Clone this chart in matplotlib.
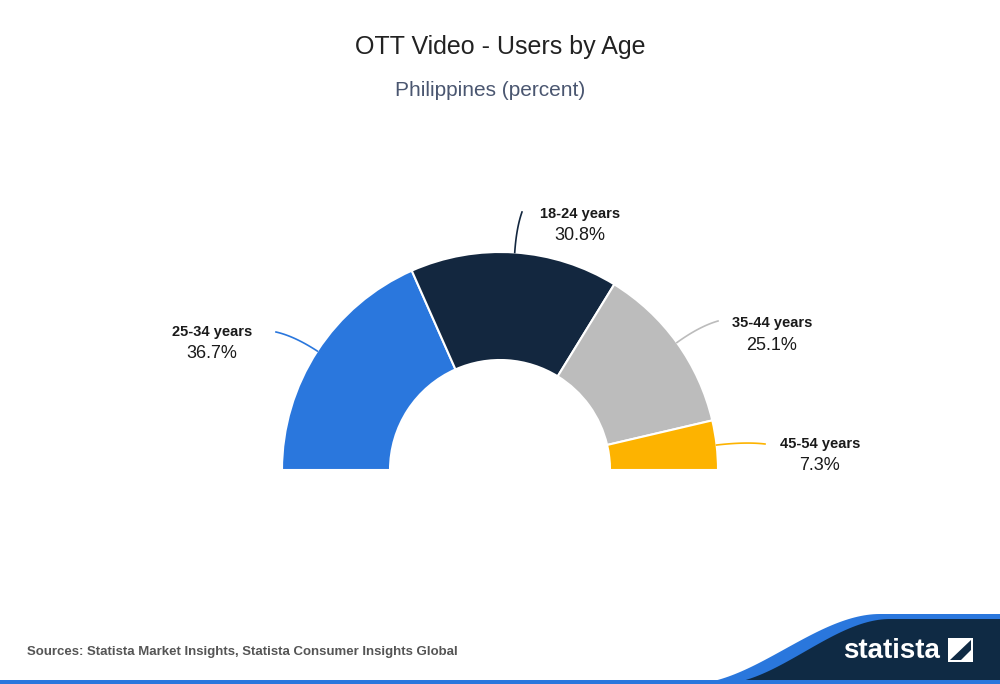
import numpy as np
import matplotlib.pyplot as plt
from matplotlib.patches import Polygon, Rectangle

plt.rcParams['font.family'] = ['Liberation Sans', 'DejaVu Sans']

# Daten
categorias = ['25-34 years', '18-24 years', '35-44 years', '45-54 years']
valores = [36.7, 30.8, 25.1, 7.3]
cores = ['#2a77dd', '#13273f', '#bcbcbc', '#fdb300']

# posicoes dos rotulos (pixels) e ponto final da linha guia
rotulos_pos = [(212, 332), (580, 214), (772, 323), (820, 444)]
linha_fim = [(276, 332), (522, 212), (718, 321), (765, 444)]

H = 684
fig = plt.figure(figsize=(10, 6.84), dpi=100)
ax = fig.add_axes([0, 0, 1, 1])

cx, cy, r, largura = 500, H - 470, 218, 108
total = sum(valores)
ax.pie(valores + [total], colors=cores + ['none'], startangle=180, counterclock=False,
       radius=r, center=(cx, cy),
       wedgeprops=dict(width=largura, edgecolor='white', linewidth=1.5))
# remover a borda da fatia invisivel
ax.patches[-1].set_edgecolor('none')

ax.set_xlim(0, 1000)
ax.set_ylim(0, H)
ax.set_aspect('auto')
ax.axis('off')

# rotulos com linhas guia (levemente curvas)
acum = 0
for cat, val, cor, (lx, ly), (ex, ey) in zip(categorias, valores, cores, rotulos_pos, linha_fim):
    meio = 180 - (acum + val / 2) / total * 180
    acum += val
    ang = np.deg2rad(meio)
    sx = cx + r * np.cos(ang)
    sy = cy + r * np.sin(ang)
    ey = H - ey
    # ponto de controle na direcao radial
    px = cx + (r + 0.6 * np.hypot(ex - sx, ey - sy)) * np.cos(ang)
    py = cy + (r + 0.6 * np.hypot(ex - sx, ey - sy)) * np.sin(ang)
    t = np.linspace(0, 1, 30)
    bx = (1 - t)**2 * sx + 2 * (1 - t) * t * px + t**2 * ex
    by = (1 - t)**2 * sy + 2 * (1 - t) * t * py + t**2 * ey
    ax.plot(bx, by, color=cor, lw=1.2)
    ax.text(lx, H - ly, cat, ha='center', va='center', fontsize=10.5, fontweight='bold', color='#1a1a1a')
    ax.text(lx, H - ly - 22, f'{val}%', ha='center', va='center', fontsize=13, color='#1a1a1a')

# titulos
ax.text(500, H - 47, 'OTT Video - Users by Age', ha='center', va='center', fontsize=18, color='#222222')
ax.text(490, H - 91, 'Philippines (percent)', ha='center', va='center', fontsize=15, color='#4a5670')

# rodape
ax.text(27, H - 652, 'Sources: Statista Market Insights, Statista Consumer Insights Global',
        ha='left', va='center', fontsize=9.5, fontweight='bold', color='#555555')

# onda azul / faixa escura
def onda(x0, x1, y0, y1, n=60):
    xs = np.linspace(x0, x1, n)
    t = (xs - x0) / (x1 - x0)
    s = 3 * t**2 - 2 * t**3
    return list(zip(xs, H - (y0 + (y1 - y0) * s)))

pts_azul = [(690, 0)] + onda(690, 880, 684, 614) + [(1000, H - 614), (1000, 0)]
ax.add_patch(Polygon(pts_azul, closed=True, color='#2a77dd', lw=0))
pts_escuro = [(720, 0)] + onda(720, 890, 684, 619) + [(1000, H - 619), (1000, 0)]
ax.add_patch(Polygon(pts_escuro, closed=True, color='#0f2a44', lw=0))
ax.add_patch(Rectangle((0, 0), 1000, 4, color='#2a77dd', lw=0))

ax.text(892, H - 651, 'statista', ha='center', va='center', fontsize=20, fontweight='bold',
        color='white')
ax.add_patch(Rectangle((948, H - 662), 25, 24, color='white', lw=0))
ax.add_patch(Polygon([(950, H - 660), (971, H - 640), (971, H - 650), (961, H - 660)], closed=True,
                     color='#0f2a44', lw=0))

fig.savefig('out.png', dpi=100, facecolor='white')
plt.close()
